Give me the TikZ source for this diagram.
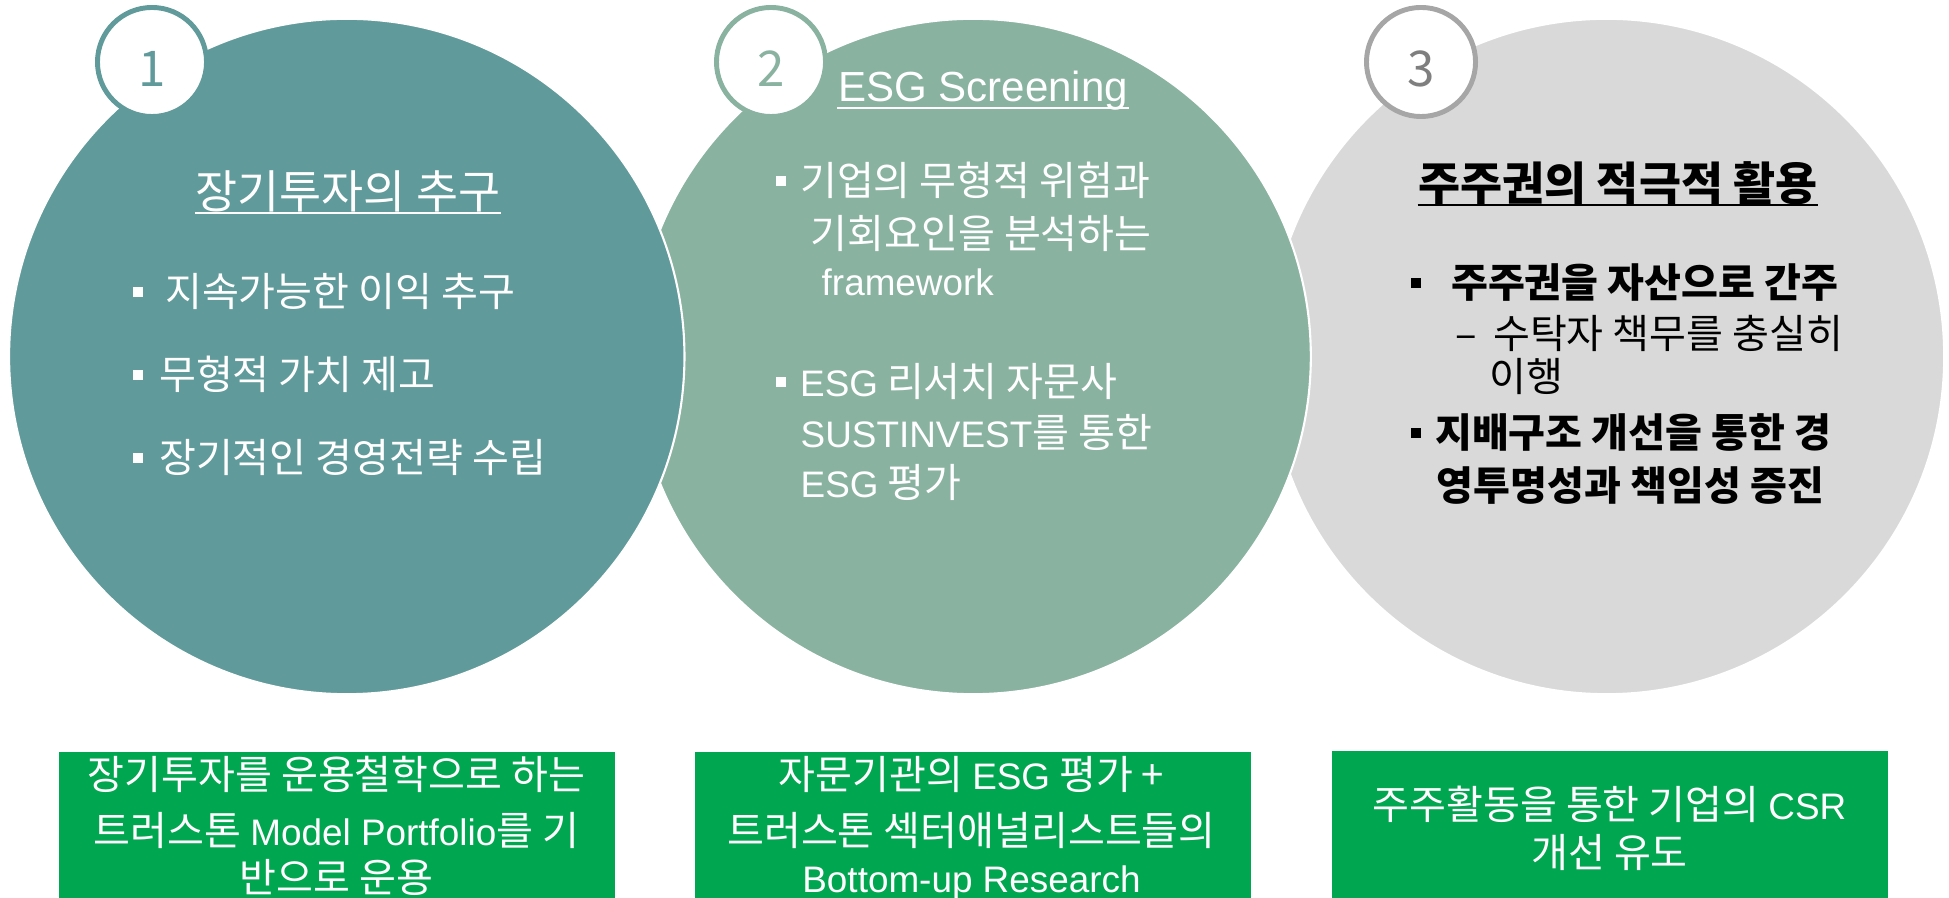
\documentclass[tikz,border=0pt]{standalone}
\usepackage{fontspec}
\setmainfont{Noto Sans CJK KR}
\newfontfamily\latin[Scale=0.92]{Liberation Sans}
\usetikzlibrary{positioning}

\definecolor{discteal}{HTML}{609A9A}
\definecolor{discsage}{HTML}{89B2A0}
\definecolor{discgray}{HTML}{D9D9D9}
\definecolor{ringgray}{HTML}{A6A6A6}
\definecolor{digitgray}{HTML}{7F7F7F}
\definecolor{notegreen}{HTML}{00A650}

\newcommand{\en}[1]{{\latin #1}}
\newcommand{\sq}{\rule[0.25em]{0.26em}{0.26em}}

\begin{document}
\begin{tikzpicture}[x=0.01cm, y=-0.01cm, node distance=6.26cm,
    disc/.style={circle, draw=white, line width=0.6pt, minimum size=6.75cm, inner sep=0},
    badge/.style={circle, fill=white, line width=1.4pt, minimum size=1.09cm, inner sep=0,
                  text height=14pt, text depth=0pt, font=\fontsize{14}{14}\selectfont},
    head/.style={font=\fontsize{13}{15}\selectfont, inner sep=0, anchor=base},
    item/.style={font=\fontsize{11.4}{14}\selectfont, inner sep=0, anchor=base west},
    bolditem/.style={item, font=\fontsize{11.4}{14}\selectfont\bfseries},
    note/.style={fill=notegreen, minimum width=5.56cm, minimum height=1.6cm, inner sep=0, anchor=north west},
    notetext/.style={font=\fontsize{11.4}{14}\selectfont, text=white, inner sep=0, anchor=base}
  ]
    \path[use as bounding box, clip] (0,0) rectangle (1949,898);

    % Discs, right one first so the left ones lie on top
    \node (c3) [disc, fill=discgray] at (1606.5,356.5) {};
    \node (c2) [disc, fill=discsage, left of=c3, node distance=6.33cm] {};
    \node (c1) [disc, fill=discteal, left of=c2] {};

    % Number badges
    \node (b1) [badge, draw=discteal, text=discteal] at (152,62) {1};
    \node (b2) [badge, draw=discsage, text=discsage] at (771,62) {2};
    \node (b3) [badge, draw=ringgray, text=digitgray] at (1421,62) {3};

    % Disc 1
    \node (h1) [head, text=white] at (348,209) {장기투자의 추구};
    \draw[white, line width=0.6pt] ([yshift=-1.1pt]h1.base west) -- ([yshift=-1.1pt]h1.base east);
    \node (p1a) [item, text=white] at (132,307) {\sq\hspace{0.55em}지속가능한 이익 추구};
    \node (p1b) [item, text=white] at (132,390) {\sq\hspace{0.4em}무형적 가치 제고};
    \node (p1c) [item, text=white] at (132,473) {\sq\hspace{0.4em}장기적인 경영전략 수립};

    % Disc 2
    \node (h2) [head, text=white] at (983,102) {\en{ESG Screening}};
    \draw[white, line width=0.6pt] ([yshift=-1.7pt]h2.base west) -- ([yshift=-1.7pt]h2.base east);
    \node (p2a) [item, text=white] at (775,196) {\sq\hspace{0.35em}기업의 무형적 위험과};
    \node (p2b) [item, text=white] at (810,249) {기회요인을 분석하는};
    \node (p2c) [item, text=white] at (821,296) {\en{framework}};
    \node (p2d) [item, text=white] at (775,397) {\sq\hspace{0.35em}\en{ESG} 리서치 자문사};
    \node (p2e) [item, text=white] at (800,448) {\en{SUSTINVEST}를 통한};
    \node (p2f) [item, text=white] at (800,498) {\en{ESG} 평가};

    % Disc 3
    \node (h3) [head, text=black, font=\fontsize{13}{15}\selectfont\bfseries] at (1618,201) {주주권의 적극적 활용};
    \draw[black, line width=0.6pt] ([yshift=-1.1pt]h3.base west) -- ([yshift=-1.1pt]h3.base east);
    \node (p3a) [bolditem, text=black] at (1410,298) {\sq\hspace{0.75em}주주권을 자산으로 간주};
    \node (p3b) [item, text=black] at (1455,349) {–\hspace{0.4em}수탁자 책무를 충실히};
    \node (p3c) [item, text=black] at (1489,392) {이행};
    \node (p3d) [bolditem, text=black] at (1410,448) {\sq\hspace{0.35em}지배구조 개선을 통한 경};
    \node (p3e) [bolditem, text=black] at (1436,501) {영투명성과 책임성 증진};

    % Green notes under the discs
    \node (n1) [note] at (58,751) {};
    \node (n2) [note] at (694,751) {};
    \node (n3) [note] at (1331,750) {};

    \node (n1a) [notetext] at (336.5,790) {장기투자를 운용철학으로 하는};
    \node (n1b) [notetext] at (336.5,845) {트러스톤 \en{Model Portfolio}를 기};
    \node (n1c) [notetext] at (336.5,892) {반으로 운용};

    \node (n2a) [notetext] at (971.5,790) {자문기관의 \en{ESG} 평가 +};
    \node (n2b) [notetext] at (971.5,845) {트러스톤 섹터애널리스트들의};
    \node (n2c) [notetext] at (971.5,892) {\en{Bottom-up Research}};

    \node (n3a) [notetext] at (1609.5,820) {주주활동을 통한 기업의 \en{CSR}};
    \node (n3b) [notetext] at (1609.5,867) {개선 유도};
\end{tikzpicture}
\end{document}
